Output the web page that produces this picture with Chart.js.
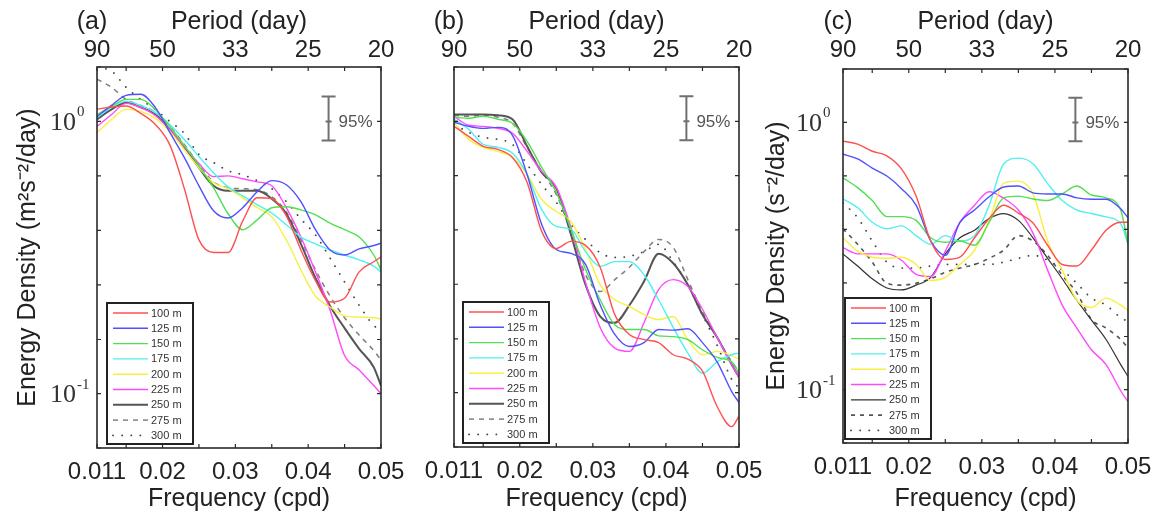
<!DOCTYPE html>
<html>
<head>
<meta charset="utf-8">
<script src="https://cdn.jsdelivr.net/npm/chart.js@4.4.1/dist/chart.umd.min.js"></script>
<style>
  body { margin: 0; background: #fff; width: 1162px; height: 520px; position: relative; overflow: hidden; }
  canvas { position: absolute; top: 0; }
</style>
</head>
<body>
<canvas id="panelA" width="420" height="520" style="left:0px"></canvas>
<canvas id="panelB" width="380" height="520" style="left:400px"></canvas>
<canvas id="panelC" width="402" height="520" style="left:760px"></canvas>
<script>
// shared axes
const freq = [0.011, 0.013, 0.015, 0.017, 0.019, 0.021, 0.023, 0.025, 0.027, 0.029, 0.031,
              0.033, 0.035, 0.037, 0.039, 0.041, 0.043, 0.045, 0.047, 0.049, 0.05];
const depths = ['100 m', '125 m', '150 m', '175 m', '200 m', '225 m', '250 m', '275 m', '300 m'];
const majorFreq = [0.011, 0.02, 0.03, 0.04, 0.05];
const minorFreq = [0.015, 0.025, 0.035, 0.045];
const freqLabels = ['0.011', '0.02', '0.03', '0.04', '0.05'];
const periodLabels = ['90', '50', '33', '25', '20'];
const yTicks = [1.585, 1, 0.631, 0.398, 0.251, 0.158, 0.1, 0.0631];
const yLabelValues = [1, 0.1];
const yLabelExp = ['0', '-1'];
const errBar = { f: 0.0428, mid: 1, lo: 0.851, hi: 1.236 };

// (a) velocity spectra
const a100 = [1.11, 1.13, 1.14, 1.07, 0.975, 0.82, 0.566, 0.367, 0.33, 0.33, 0.43, 0.524, 0.52, 0.45, 0.337, 0.26, 0.217, 0.224, 0.28, 0.305, 0.318];
const a125 = [1.043, 1.145, 1.247, 1.258, 1.127, 0.911, 0.736, 0.58, 0.47, 0.442, 0.482, 0.552, 0.606, 0.585, 0.507, 0.40, 0.337, 0.323, 0.34, 0.35, 0.357];
const a150 = [1.06, 1.136, 1.205, 1.205, 1.107, 0.958, 0.815, 0.688, 0.571, 0.458, 0.40, 0.435, 0.482, 0.486, 0.473, 0.454, 0.423, 0.40, 0.376, 0.323, 0.285];
const a175 = [1.035, 1.127, 1.185, 1.145, 1.08, 0.975, 0.858, 0.743, 0.648, 0.575, 0.533, 0.494, 0.461, 0.417, 0.376, 0.355, 0.337, 0.323, 0.31, 0.294, 0.28];
const a200 = [0.911, 1.017, 1.107, 1.089, 1.026, 0.919, 0.788, 0.676, 0.596, 0.566, 0.524, 0.482, 0.446, 0.367, 0.285, 0.228, 0.208, 0.193, 0.191, 0.19, 0.188];
const a225 = [0.958, 1.06, 1.165, 1.127, 1.052, 0.934, 0.809, 0.70, 0.627, 0.631, 0.616, 0.60, 0.58, 0.482, 0.376, 0.28, 0.203, 0.138, 0.122, 0.107, 0.1];
const a250 = [1.017, 1.107, 1.175, 1.127, 1.06, 0.934, 0.802, 0.676, 0.58, 0.556, 0.556, 0.556, 0.52, 0.458, 0.355, 0.266, 0.21, 0.174, 0.146, 0.125, 0.107];
const a275 = [1.43, 1.335, 1.205, 1.145, 1.08, 0.958, 0.822, 0.694, 0.60, 0.571, 0.566, 0.561, 0.529, 0.465, 0.367, 0.285, 0.228, 0.19, 0.164, 0.144, 0.133];
const a300 = [1.58, 1.53, 1.335, 1.205, 1.107, 1.0, 0.903, 0.756, 0.706, 0.659, 0.637, 0.606, 0.566, 0.507, 0.438, 0.383, 0.315, 0.257, 0.211, 0.178, 0.171];

// (b)
const b100 = [0.958, 0.88, 0.809, 0.788, 0.736, 0.596, 0.393, 0.34, 0.361, 0.349, 0.29, 0.194, 0.164, 0.157, 0.153, 0.138, 0.133, 0.12, 0.089, 0.075, 0.082];
const b125 = [0.992, 0.958, 0.942, 0.95, 0.888, 0.637, 0.417, 0.337, 0.326, 0.297, 0.211, 0.164, 0.148, 0.153, 0.171, 0.17, 0.172, 0.153, 0.13, 0.101, 0.092];
const b150 = [1.035, 1.026, 1.043, 1.017, 0.983, 0.844, 0.676, 0.547, 0.40, 0.285, 0.22, 0.178, 0.171, 0.171, 0.162, 0.161, 0.157, 0.144, 0.135, 0.13, 0.118];
const b175 = [1.017, 0.934, 0.822, 0.802, 0.762, 0.637, 0.473, 0.41, 0.40, 0.331, 0.292, 0.304, 0.304, 0.272, 0.22, 0.174, 0.14, 0.118, 0.13, 0.138, 0.14];
const b200 = [0.992, 0.858, 0.802, 0.775, 0.736, 0.637, 0.515, 0.465, 0.428, 0.337, 0.25, 0.22, 0.208, 0.194, 0.186, 0.191, 0.157, 0.138, 0.142, 0.137, 0.133];
const b225 = [1.043, 0.967, 0.958, 0.942, 0.903, 0.775, 0.654, 0.571, 0.406, 0.255, 0.174, 0.146, 0.142, 0.181, 0.24, 0.261, 0.246, 0.203, 0.16, 0.127, 0.114];
const b250 = [1.06, 1.06, 1.06, 1.052, 1.017, 0.809, 0.648, 0.566, 0.383, 0.25, 0.191, 0.181, 0.21, 0.257, 0.325, 0.30, 0.25, 0.194, 0.16, 0.127, 0.114];
const b275 = [1.052, 1.043, 1.052, 1.035, 0.983, 0.802, 0.654, 0.537, 0.393, 0.272, 0.236, 0.261, 0.29, 0.331, 0.367, 0.343, 0.261, 0.199, 0.16, 0.13, 0.12];
const b300 = [0.975, 0.911, 0.873, 0.858, 0.822, 0.694, 0.585, 0.503, 0.417, 0.367, 0.328, 0.315, 0.318, 0.331, 0.352, 0.304, 0.25, 0.194, 0.15, 0.112, 0.104];

// (c) buoyancy spectra
const c100 = [0.85, 0.83, 0.78, 0.75, 0.67, 0.53, 0.36, 0.307, 0.313, 0.37, 0.437, 0.49, 0.458, 0.42, 0.347, 0.294, 0.29, 0.333, 0.395, 0.423, 0.423];
const c125 = [0.76, 0.73, 0.675, 0.63, 0.565, 0.49, 0.36, 0.318, 0.423, 0.47, 0.527, 0.573, 0.578, 0.545, 0.54, 0.54, 0.522, 0.516, 0.516, 0.475, 0.44];
const c150 = [0.62, 0.57, 0.51, 0.444, 0.444, 0.43, 0.37, 0.356, 0.36, 0.347, 0.423, 0.522, 0.53, 0.517, 0.51, 0.54, 0.578, 0.535, 0.522, 0.47, 0.35];
const c175 = [0.517, 0.48, 0.423, 0.40, 0.41, 0.377, 0.35, 0.377, 0.36, 0.377, 0.49, 0.70, 0.735, 0.70, 0.59, 0.51, 0.47, 0.456, 0.443, 0.418, 0.35];
const c200 = [0.37, 0.33, 0.313, 0.31, 0.313, 0.294, 0.256, 0.263, 0.294, 0.333, 0.43, 0.593, 0.603, 0.54, 0.36, 0.28, 0.216, 0.203, 0.22, 0.207, 0.198];
const c225 = [0.34, 0.322, 0.322, 0.322, 0.305, 0.27, 0.265, 0.33, 0.423, 0.49, 0.55, 0.52, 0.47, 0.385, 0.28, 0.207, 0.17, 0.141, 0.124, 0.099, 0.09];
const c250 = [0.322, 0.29, 0.26, 0.24, 0.236, 0.246, 0.263, 0.322, 0.37, 0.395, 0.437, 0.456, 0.43, 0.37, 0.31, 0.26, 0.216, 0.182, 0.154, 0.124, 0.112];
const c275 = [0.40, 0.35, 0.30, 0.25, 0.246, 0.25, 0.26, 0.275, 0.285, 0.294, 0.31, 0.333, 0.377, 0.36, 0.318, 0.268, 0.23, 0.183, 0.17, 0.154, 0.143];
const c300 = [0.50, 0.44, 0.36, 0.30, 0.285, 0.285, 0.29, 0.294, 0.294, 0.294, 0.294, 0.30, 0.31, 0.318, 0.305, 0.28, 0.25, 0.22, 0.207, 0.186, 0.18];

const FONT = 'Liberation Sans, Arial, sans-serif';
const SERIF = 'Liberation Serif, Times New Roman, serif';
Chart.defaults.font.family = FONT;
Chart.defaults.color = '#222';

const baseStyles = [
  { color: '#ff5050', width: 1.4 },
  { color: '#5050ff', width: 1.4 },
  { color: '#50e050', width: 1.4 },
  { color: '#50f0f0', width: 1.4 },
  { color: '#f8f040', width: 1.4 },
  { color: '#ff48ff', width: 1.4 },
  { color: '#555555', width: 2 },
  { color: '#808080', width: 1.5, dash: [5, 5] },
  { color: '#444444', width: 1.8, dash: [0.1, 9], cap: 'round' }
];
const stylesC = baseStyles.slice();
stylesC[6] = { color: '#333333', width: 1.2 };
stylesC[7] = { color: '#555555', width: 1.6, dash: [4, 5] };

function labelFor(v, labels) {
  const i = majorFreq.findIndex(m => Math.abs(m - v) < 1e-6);
  return i < 0 ? '' : labels[i];
}

const panelPlugin = {
  id: 'panel',
  afterDatasetsDraw(chart, args, o) {
    const { ctx, chartArea: ca, scales } = chart;
    const x = scales.x, y = scales.y;
    ctx.save();

    // frame and inward ticks
    ctx.strokeStyle = '#2a2a2a';
    ctx.lineWidth = 1.6;
    ctx.strokeRect(ca.left, ca.top, ca.right - ca.left, ca.bottom - ca.top);
    ctx.lineWidth = 1.2;
    ctx.beginPath();
    majorFreq.concat(minorFreq).forEach(f => {
      const px = x.getPixelForValue(f);
      ctx.moveTo(px, ca.bottom); ctx.lineTo(px, ca.bottom - 4);
      ctx.moveTo(px, ca.top); ctx.lineTo(px, ca.top + 4);
    });
    yTicks.forEach(v => {
      const py = y.getPixelForValue(v);
      ctx.moveTo(ca.left, py); ctx.lineTo(ca.left + 4, py);
      ctx.moveTo(ca.right, py); ctx.lineTo(ca.right - 4, py);
    });
    ctx.stroke();

    // 95% error bar
    const ex = x.getPixelForValue(errBar.f);
    const yHi = y.getPixelForValue(errBar.hi), yLo = y.getPixelForValue(errBar.lo), yMid = y.getPixelForValue(errBar.mid);
    ctx.strokeStyle = '#707070';
    ctx.lineWidth = 2;
    ctx.beginPath();
    ctx.moveTo(ex, yHi); ctx.lineTo(ex, yLo);
    ctx.moveTo(ex - 7, yHi); ctx.lineTo(ex + 7, yHi);
    ctx.moveTo(ex - 7, yLo); ctx.lineTo(ex + 7, yLo);
    ctx.moveTo(ex - 3, yMid); ctx.lineTo(ex + 3, yMid);
    ctx.stroke();
    ctx.fillStyle = '#555';
    ctx.font = '17px ' + FONT;
    ctx.textAlign = 'left';
    ctx.textBaseline = 'middle';
    ctx.fillText('95%', ex + 10, yMid + 1);

    // legend box
    const bx = ca.left + o.legendOff, bw = 86, bb = ca.bottom - 4, bt = bb - 141;
    ctx.fillStyle = '#fff';
    ctx.fillRect(bx, bt, bw, bb - bt);
    ctx.strokeStyle = '#222';
    ctx.lineWidth = 2;
    ctx.strokeRect(bx, bt, bw, bb - bt);
    chart.data.datasets.forEach((ds, i) => {
      const ry = bt + 10 + i * 15.3;
      ctx.save();
      ctx.strokeStyle = ds.borderColor;
      ctx.lineWidth = ds.borderWidth;
      ctx.lineCap = ds.borderCapStyle || 'butt';
      ctx.setLineDash(ds.borderDash || []);
      ctx.beginPath();
      ctx.moveTo(bx + 6, ry); ctx.lineTo(bx + 41, ry);
      ctx.stroke();
      ctx.restore();
      ctx.fillStyle = '#333';
      ctx.font = '11px ' + FONT;
      ctx.textAlign = 'left';
      ctx.textBaseline = 'middle';
      ctx.fillText(ds.label, bx + 44, ry + 0.5);
    });

    // y tick labels 10^n
    if (o.yLabels) {
      yLabelValues.forEach((v, i) => {
        const py = y.getPixelForValue(v);
        const lx = ca.left - 47;
        ctx.fillStyle = '#333';
        ctx.textAlign = 'left';
        ctx.textBaseline = 'middle';
        ctx.font = '26px ' + SERIF;
        ctx.fillText('10', lx, py + 2);
        const w = ctx.measureText('10').width;
        ctx.font = '15px ' + SERIF;
        ctx.fillText(yLabelExp[i], lx + w + 1, py - 9);
      });
    }

    // panel letter
    ctx.fillStyle = '#222';
    ctx.font = '25px ' + FONT;
    ctx.textAlign = 'center';
    ctx.textBaseline = 'middle';
    ctx.fillText(o.letter, ca.left - 5, 22);
    ctx.restore();
  }
};

function makePanel(id, series, styles, opt) {
  const datasets = series.map((vals, i) => ({
    label: depths[i],
    data: freq.map((f, j) => ({ x: f, y: vals[j] })),
    borderColor: styles[i].color,
    borderWidth: styles[i].width,
    borderDash: styles[i].dash || [],
    borderCapStyle: styles[i].cap || 'butt',
    pointRadius: 0,
    fill: false,
    cubicInterpolationMode: 'monotone'
  }));
  const xTicks = majorFreq.concat(minorFreq).sort((p, q) => p - q);
  new Chart(document.getElementById(id), {
    type: 'line',
    data: { datasets },
    options: {
      responsive: false,
      animation: false,
      devicePixelRatio: 1,
      events: [],
      layout: { padding: { left: 0, top: 0, right: opt.padRight, bottom: 0 } },
      plugins: { legend: { display: false }, tooltip: { enabled: false }, panel: opt },
      scales: {
        x: {
          type: 'linear', position: 'bottom', min: 0.011, max: 0.05,
          afterBuildTicks: s => { s.ticks = xTicks.map(v => ({ value: v })); },
          afterFit: s => { s.height = opt.bottomH; },
          grid: { display: false, drawTicks: false }, border: { display: false },
          ticks: { autoSkip: false, maxRotation: 0, padding: opt.bottomPad, color: '#222', font: { size: 24 },
                   callback: v => labelFor(v, freqLabels) },
          title: { display: true, text: 'Frequency (cpd)', color: '#222', font: { size: 25 },
                   padding: { top: 0, bottom: 6 } }
        },
        x2: {
          type: 'linear', position: 'top', min: 0.011, max: 0.05,
          afterBuildTicks: s => { s.ticks = xTicks.map(v => ({ value: v })); },
          afterFit: s => { s.height = opt.topH; },
          grid: { display: false, drawTicks: false }, border: { display: false },
          ticks: { autoSkip: false, maxRotation: 0, padding: opt.topPad, color: '#222', font: { size: 24 },
                   callback: v => labelFor(v, periodLabels) },
          title: { display: true, text: 'Period (day)', color: '#222', font: { size: 25 },
                   padding: { top: 7, bottom: 0 } }
        },
        y: {
          type: 'logarithmic', position: 'left', min: 0.0631, max: 1.585,
          afterBuildTicks: s => { s.ticks = yTicks.map(v => ({ value: v })); },
          afterFit: s => { s.width = opt.leftW; },
          grid: { display: false, drawTicks: false }, border: { display: false },
          ticks: { display: false },
          title: { display: !!opt.yTitle, text: opt.yTitle || '', color: '#222', font: { size: 25 },
                   padding: { top: opt.titlePad || 0, bottom: 0 } }
        }
      }
    },
    plugins: [panelPlugin]
  });
}

makePanel('panelA', [a100, a125, a150, a175, a200, a225, a250, a275, a300], baseStyles,
  { letter: '(a)', padRight: 39, leftW: 97, topH: 67, bottomH: 72, topPad: 2, bottomPad: 10,
    yTitle: 'Energy Density (m\u00b2s\u207b\u00b2/day)', titlePad: 13, yLabels: true, legendOff: 10 });
makePanel('panelB', [b100, b125, b150, b175, b200, b225, b250, b275, b300], baseStyles,
  { letter: '(b)', padRight: 41, leftW: 54, topH: 67, bottomH: 73, topPad: 2, bottomPad: 10,
    yLabels: false, legendOff: 9 });
makePanel('panelC', [c100, c125, c150, c175, c200, c225, c250, c275, c300], stylesC,
  { letter: '(c)', padRight: 34, leftW: 83, topH: 69, bottomH: 77, topPad: 4, bottomPad: 10,
    yTitle: 'Energy Density (s\u207b\u00b2/day)', titlePad: 2, yLabels: true, legendOff: 2 });
</script>
</body>
</html>
